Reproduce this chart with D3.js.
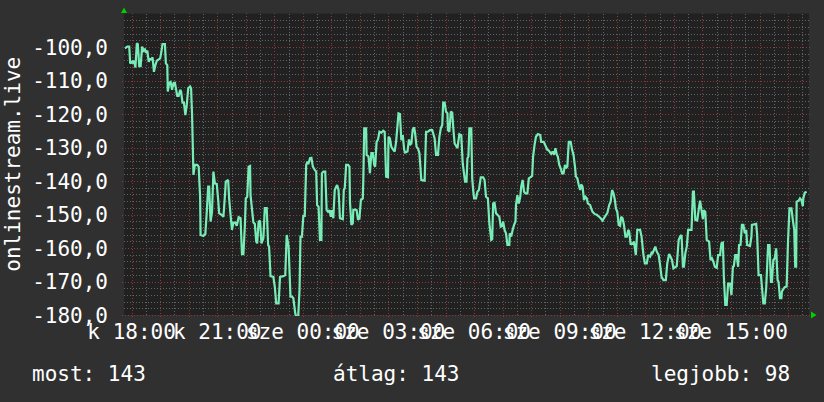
<!DOCTYPE html>
<html><head><meta charset="utf-8">
<script src="https://cdn.jsdelivr.net/npm/d3@7"></script>
<style>html,body{margin:0;padding:0;background:#303030;}svg{display:block}</style>
</head><body><svg id="c" width="824" height="402"></svg>
<script>
// ---------------- data ----------------
const seriesName = "onlinestream.live";
const startTime = new Date(2024, 0, 2, 17, 44); // kedd (Tuesday) 17:44
const spanMinutes = 1440;
const yDomain = [-180, -90];
const yTickValues = [-100, -110, -120, -130, -140, -150, -160, -170, -180];
// [minutes after start, value]
const samples = [[2,-100.4],[7,-99.9],[11,-99.9],[13,-104.9],[17,-104.4],[18,-104.9],[21,-104.1],[24,-106.1],[27,-98.9],[29,-99.1],[32,-105.7],[35,-105.7],[38,-99.9],[41,-101.1],[44,-100.7],[46,-101.7],[49,-101.1],[52,-104.4],[55,-103.4],[57,-103.9],[60,-103.1],[63,-107.4],[66,-105.4],[69,-104.1],[73,-103.7],[76,-103.4],[78,-101.9],[81,-99.1],[86,-99.1],[88,-104.9],[91,-105.4],[92,-113.3],[95,-110.7],[98,-110.4],[101,-112.8],[104,-110.8],[107,-110.7],[109,-112.3],[112,-114.6],[115,-114.6],[118,-112.8],[120,-113.3],[123,-116.6],[126,-116.6],[129,-120.3],[132,-117.3],[135,-112.3],[139,-111.8],[141,-112.3],[143,-119.8],[146,-138.2],[149,-135.2],[154,-135.2],[157,-135.7],[160,-144.7],[161,-156.1],[167,-156.4],[171,-155.8],[174,-149.2],[177,-141.7],[179,-141.7],[182,-152.1],[185,-149.2],[188,-137.2],[191,-140.7],[195,-140.9],[198,-145.7],[200,-149.6],[205,-150.1],[209,-150.7],[212,-144.7],[214,-140.2],[219,-139.7],[221,-145.2],[224,-150.1],[227,-154.6],[230,-152.4],[234,-152.4],[237,-153.4],[241,-150.8],[245,-151.1],[248,-161.8],[251,-161.8],[254,-153.6],[256,-145.2],[259,-144.7],[262,-135.7],[265,-135.5],[266,-144.2],[272,-152.4],[275,-152.8],[278,-158.1],[280,-158.6],[283,-152.1],[286,-151.8],[289,-158.6],[293,-157.1],[296,-148.1],[300,-148.1],[303,-159.1],[305,-159.6],[308,-168.4],[314,-168.6],[317,-171.6],[320,-176.5],[325,-176.5],[328,-168.6],[335,-168.4],[339,-168.1],[342,-156.1],[346,-159.6],[350,-174.5],[353,-174.5],[356,-175.0],[360,-179.5],[363,-181],[366,-181],[369,-172.5],[371,-156.6],[374,-156.6],[377,-150.4],[380,-150.4],[383,-135.2],[385,-134.5],[388,-134.7],[391,-133.2],[394,-133.1],[397,-135.7],[401,-136.7],[404,-137.2],[406,-147.2],[409,-147.7],[412,-157.6],[415,-157.6],[416,-137.7],[419,-137.2],[423,-137.2],[426,-148.7],[429,-149.2],[432,-148.7],[435,-150.7],[437,-148.7],[440,-151.1],[443,-142.7],[446,-141.7],[448,-141.2],[451,-142.7],[454,-151.1],[460,-151.4],[462,-142.7],[464,-142.2],[467,-135.2],[471,-135.2],[474,-135.7],[475,-146.2],[478,-153.1],[481,-152.6],[482,-148.7],[486,-148.5],[489,-148.7],[492,-151.6],[495,-151.1],[498,-145.7],[502,-145.2],[503,-140.2],[505,-124.3],[509,-124.3],[510,-132.2],[514,-132.7],[517,-137.7],[520,-131.7],[523,-131.7],[526,-135.2],[528,-135.7],[531,-128.3],[534,-127.6],[537,-125.3],[541,-125.6],[545,-125.0],[548,-125.3],[551,-138.7],[555,-138.9],[556,-126.8],[559,-127.3],[562,-129.8],[566,-130.7],[569,-131.2],[572,-128.3],[575,-123.3],[577,-119.8],[580,-120.0],[583,-127.8],[586,-126.3],[589,-130.7],[591,-131.5],[596,-131.2],[599,-127.6],[601,-129.3],[604,-128.8],[607,-124.6],[610,-124.0],[612,-125.8],[615,-129.8],[618,-130.3],[621,-131.7],[625,-139.7],[632,-139.9],[635,-125.3],[639,-125.3],[643,-124.8],[648,-124.8],[650,-125.8],[653,-127.3],[656,-132.2],[660,-132.2],[663,-126.8],[666,-124.3],[669,-123.3],[671,-116.6],[674,-116.6],[677,-119.3],[680,-119.8],[681,-124.8],[684,-125.3],[687,-119.3],[690,-119.6],[692,-123.8],[695,-128.8],[701,-130.2],[705,-126.0],[709,-126.3],[712,-134.7],[717,-140.2],[720,-140.2],[722,-133.2],[724,-132.7],[726,-124.3],[730,-124.3],[732,-139.2],[734,-142.7],[736,-145.2],[740,-145.2],[743,-143.2],[746,-142.7],[750,-138.9],[755,-138.9],[758,-139.7],[761,-144.7],[765,-145.2],[768,-152.6],[772,-157.6],[774,-157.4],[776,-146.7],[779,-146.5],[782,-149.6],[785,-150.1],[789,-150.7],[792,-153.6],[795,-153.4],[797,-152.1],[800,-154.6],[803,-155.6],[806,-159.1],[810,-159.1],[811,-155.6],[814,-156.6],[817,-154.6],[820,-153.1],[823,-152.1],[824,-147.2],[827,-144.2],[830,-146.7],[833,-144.7],[835,-141.7],[838,-139.7],[841,-143.2],[844,-143.7],[848,-143.7],[851,-139.2],[854,-138.9],[858,-138.5],[860,-132.7],[863,-129.3],[866,-126.8],[870,-126.0],[875,-126.3],[877,-128.3],[882,-128.3],[884,-128.8],[887,-129.8],[890,-130.7],[893,-130.9],[896,-131.5],[898,-131.9],[901,-131.2],[904,-132.2],[907,-130.2],[910,-132.2],[912,-132.7],[915,-135.2],[918,-136.2],[921,-137.7],[924,-137.7],[927,-135.2],[929,-136.2],[932,-135.7],[935,-128.3],[939,-128.3],[942,-130.7],[945,-132.2],[948,-135.7],[950,-138.7],[953,-139.2],[956,-141.2],[959,-142.7],[961,-141.0],[964,-141.7],[967,-145.7],[970,-144.7],[973,-145.2],[975,-146.7],[980,-147.2],[982,-148.1],[985,-149.2],[990,-149.9],[994,-150.1],[998,-150.6],[1002,-151.1],[1006,-151.8],[1009,-151.1],[1012,-150.4],[1016,-149.6],[1020,-147.2],[1023,-146.2],[1026,-142.7],[1029,-143.7],[1032,-145.7],[1034,-148.1],[1037,-149.2],[1040,-153.1],[1043,-153.4],[1045,-150.7],[1048,-151.1],[1051,-153.1],[1054,-156.6],[1057,-156.6],[1060,-154.6],[1062,-155.1],[1065,-158.8],[1069,-158.8],[1072,-158.1],[1076,-162.1],[1079,-154.6],[1085,-154.6],[1088,-156.6],[1092,-162.1],[1095,-164.6],[1099,-164.6],[1102,-162.1],[1106,-162.6],[1109,-161.4],[1111,-161.6],[1114,-160.6],[1117,-159.6],[1120,-161.1],[1124,-162.1],[1127,-165.1],[1130,-168.6],[1134,-169.6],[1139,-169.6],[1142,-164.6],[1146,-161.8],[1149,-162.6],[1152,-163.6],[1155,-166.1],[1162,-165.4],[1166,-157.6],[1169,-156.6],[1172,-156.1],[1175,-165.6],[1177,-165.6],[1180,-161.6],[1183,-159.6],[1186,-154.6],[1193,-154.6],[1196,-143.2],[1198,-143.2],[1201,-151.6],[1205,-151.8],[1208,-148.7],[1211,-145.9],[1214,-148.7],[1217,-151.4],[1219,-148.7],[1222,-149.2],[1225,-157.6],[1230,-158.1],[1233,-163.6],[1236,-163.1],[1239,-164.1],[1242,-165.6],[1246,-165.9],[1249,-162.1],[1253,-162.1],[1256,-158.6],[1259,-158.4],[1261,-168.6],[1264,-177.0],[1267,-177.0],[1270,-170.6],[1274,-170.6],[1277,-174.0],[1280,-165.6],[1282,-165.4],[1285,-162.1],[1288,-162.1],[1291,-165.6],[1293,-159.1],[1296,-159.1],[1299,-153.1],[1302,-153.1],[1305,-155.6],[1308,-154.6],[1310,-159.1],[1316,-159.4],[1319,-156.6],[1320,-153.1],[1329,-152.8],[1331,-156.1],[1334,-168.1],[1339,-168.1],[1341,-171.5],[1344,-176.5],[1347,-176.5],[1350,-172.0],[1354,-159.1],[1357,-159.1],[1360,-170.1],[1362,-170.1],[1365,-163.6],[1368,-163.1],[1371,-160.1],[1374,-169.6],[1376,-170.1],[1379,-175.0],[1382,-175.0],[1383,-173.0],[1386,-172.3],[1389,-171.7],[1393,-171.5],[1396,-157.6],[1399,-148.2],[1403,-148.2],[1406,-151.6],[1409,-154.6],[1411,-165.6],[1413,-165.6],[1414,-146.2],[1418,-145.9],[1421,-145.2],[1424,-145.7],[1427,-147.5],[1428,-145.2],[1431,-143.5],[1435,-143.2]];
const legendLabels = ["most", "átlag", "legjobb"];
const legendValues = [143, 143, 98];

// ---------------- layout ----------------
const W = 824, H = 402;
const plot = {left: 124, right: 809, top: 13.5, bottom: 315};
const FONT = "'DejaVu Sans Mono', monospace";
const C = {bg: "#303030", plotBg: "#212121", minor: "#646464", major: "#8c3838", text: "#ffffff", line: "#78ecb6", arrow: "#00d000"};

const svg = d3.select("#c");
svg.append("rect").attr("width", W).attr("height", H).attr("fill", C.bg);
svg.append("rect").attr("x", plot.left).attr("y", plot.top)
  .attr("width", plot.right - plot.left).attr("height", plot.bottom - plot.top).attr("fill", C.plotBg);

const endTime = d3.timeMinute.offset(startTime, spanMinutes);
const x = d3.scaleTime().domain([startTime, endTime]).range([plot.left, plot.right]);
const y = d3.scaleLinear().domain(yDomain).range([plot.bottom, plot.top]);

const huLocale = d3.timeFormatLocale({
  dateTime: "%Y. %B %-e., %A %X", date: "%Y. %m. %d.", time: "%H:%M:%S",
  periods: ["de.", "du."],
  days: ["vasárnap","hétfő","kedd","szerda","csütörtök","péntek","szombat"],
  shortDays: ["v","h","k","sze","cs","p","szo"],
  months: ["január","február","március","április","május","június","július","augusztus","szeptember","október","november","december"],
  shortMonths: ["jan","feb","már","ápr","máj","jún","júl","aug","szept","okt","nov","dec"]
});
const timeFmt = huLocale.format("%a %H:%M");
const numFmt = d3.formatLocale({decimal: ",", thousands: " ", grouping: [3], currency: ["", ""], minus: "-"}).format(".1f");

// grid
const g = svg.append("g").attr("shape-rendering", "crispEdges");
const minorY = d3.range(yDomain[0], yDomain[1] + 0.001, 2).filter(v => v % 10 !== 0);
const majorY = d3.range(yDomain[0], yDomain[1], 10);
const halfHours = d3.timeMinute.every(30).range(startTime, endTime).filter(d => d.getMinutes() !== 0);
const hours = d3.timeHour.every(1).range(startTime, endTime);

g.selectAll(".hmin").data(minorY).join("line")
  .attr("x1", plot.left).attr("x2", plot.right + 2)
  .attr("y1", d => Math.round(y(d)) + 0.5).attr("y2", d => Math.round(y(d)) + 0.5)
  .attr("stroke", C.minor).attr("stroke-dasharray", "1,2");
g.selectAll(".vmin").data(halfHours).join("line")
  .attr("x1", d => Math.round(x(d)) + 0.5).attr("x2", d => Math.round(x(d)) + 0.5)
  .attr("y1", plot.top).attr("y2", plot.bottom + 2)
  .attr("stroke", C.minor).attr("stroke-dasharray", "1,2");
g.selectAll(".hmaj").data(majorY).join("line")
  .attr("x1", plot.left - 2).attr("x2", plot.right + 2)
  .attr("y1", d => Math.round(y(d)) + 0.5).attr("y2", d => Math.round(y(d)) + 0.5)
  .attr("stroke", C.major).attr("stroke-dasharray", "1,2");
g.selectAll(".vmaj").data(hours).join("line")
  .attr("x1", d => Math.round(x(d)) + 0.5).attr("x2", d => Math.round(x(d)) + 0.5)
  .attr("y1", plot.top - 1).attr("y2", plot.bottom + 3)
  .attr("stroke", C.major).attr("stroke-dasharray", "1,2");

// y labels
svg.append("g").selectAll("text").data(yTickValues).join("text")
  .attr("x", 108).attr("y", d => y(d)).attr("dy", "0.365em")
  .attr("text-anchor", "end").attr("font-family", FONT).attr("font-size", 21)
  .attr("fill", C.text).text(d => numFmt(d));

// x labels every 3 hours (overlapping, as in the original)
const labelTimes = d3.timeHour.every(3).range(startTime, endTime);
svg.append("g").selectAll("text").data(labelTimes).join("text")
  .attr("x", d => x(d)).attr("y", 339)
  .attr("text-anchor", "middle").attr("font-family", FONT).attr("font-size", 21)
  .attr("fill", C.text).text(d => timeFmt(d));

// y title
svg.append("text").attr("transform", `translate(19.5,${(plot.top + plot.bottom) / 2}) rotate(-90)`)
  .attr("text-anchor", "middle").attr("font-family", FONT).attr("font-size", 21)
  .attr("fill", C.text).text(seriesName);

// line
svg.append("clipPath").attr("id", "clip").append("rect")
  .attr("x", plot.left).attr("y", plot.top).attr("width", plot.right - plot.left).attr("height", plot.bottom - plot.top + 1);
const line = d3.line()
  .x(d => x(d3.timeMinute.offset(startTime, d[0])))
  .y(d => y(d[1]));
svg.append("path").datum(samples).attr("clip-path", "url(#clip)")
  .attr("d", line).attr("fill", "none").attr("stroke", C.line)
  .attr("stroke-width", 2.2).attr("stroke-linejoin", "miter").attr("stroke-miterlimit", 2);

// arrows
svg.append("path").attr("d", d3.line()([[plot.left - 3, 13], [plot.left + 3, 13], [plot.left, 7.5]]) + "Z").attr("fill", C.arrow);
svg.append("path").attr("d", d3.line()([[plot.right + 2, plot.bottom - 3.5], [plot.right + 2, plot.bottom + 3.5], [plot.right + 7.5, plot.bottom]]) + "Z").attr("fill", C.arrow);

// legend
const legendX = [32, 333, 651];
svg.append("g").selectAll("text").data(legendLabels).join("text")
  .attr("x", (d, i) => legendX[i]).attr("y", 381)
  .attr("font-family", FONT).attr("font-size", 21).attr("fill", C.text)
  .text((d, i) => `${d}: ${legendValues[i]}`);
</script></body></html>
